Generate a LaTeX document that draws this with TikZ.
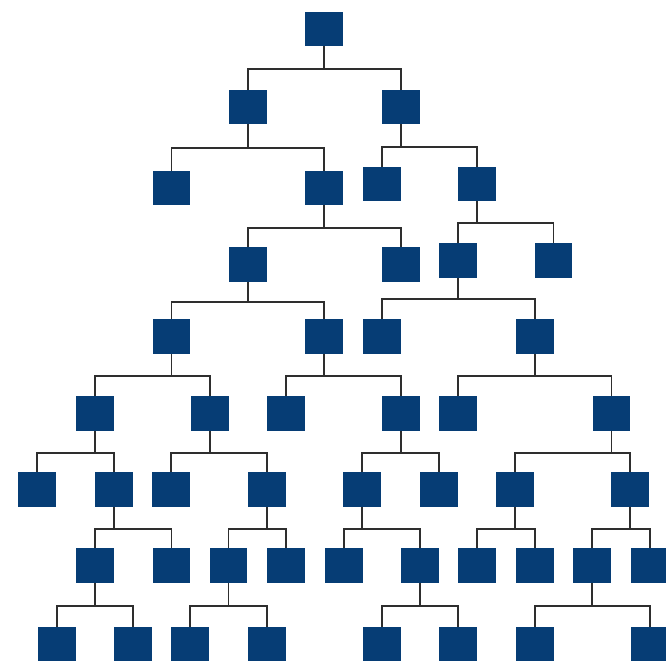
\documentclass[tikz,border=0pt]{standalone}
\definecolor{boxblue}{HTML}{063D75}
\definecolor{linegray}{HTML}{2E2E2E}
\newcommand{\treefam}[4]{%
  \draw[conn] (#1.south) -- (#1.south |- 0,#2);
  \draw[conn] (#3.north) -- (#3.north |- 0,#2) -- (#4.north |- 0,#2) -- (#4.north);}
\begin{document}
\begin{tikzpicture}[x=1pt,y=-1pt,
  bx/.style={rectangle,fill=boxblue,draw=none,minimum width=37.5pt,minimum height=34.5pt,inner sep=0pt},
  conn/.style={draw=linegray,line width=1.8pt}]
\useasboundingbox (0,0) rectangle (666,663);
\clip (0,0) rectangle (666,663);
% row 1
\node[bx] (R) at (324,29) {};
% row 2
\node[bx] (A) at (248,107) {};
\node[bx] (B) at (401,107) {};
% row 3
\node[bx] (A1) at (171.5,188) {};
\node[bx] (A2) at (324,188) {};
\node[bx] (B1) at (382,184) {};
\node[bx] (B2) at (477,184) {};
% row 4
\node[bx] (C1) at (248,264.5) {};
\node[bx] (C2) at (401,264.5) {};
\node[bx] (D1) at (458,260.5) {};
\node[bx] (D2) at (553.5,260.5) {};
% row 5
\node[bx] (E1) at (171.5,336.5) {};
\node[bx] (E2) at (324,336.5) {};
\node[bx] (F1) at (382,336.5) {};
\node[bx] (F2) at (535,336.5) {};
% row 6
\node[bx] (G1) at (95,413.5) {};
\node[bx] (G2) at (210,413.5) {};
\node[bx] (G3) at (286,413.5) {};
\node[bx] (G4) at (401,413.5) {};
\node[bx] (G5) at (458,413.5) {};
\node[bx] (G6) at (611.5,413.5) {};
% row 7
\node[bx] (H1) at (37,489.5) {};
\node[bx] (H2) at (114,489.5) {};
\node[bx] (H3) at (171,489.5) {};
\node[bx] (H4) at (267,489.5) {};
\node[bx] (H5) at (362,489.5) {};
\node[bx] (H6) at (439,489.5) {};
\node[bx] (H7) at (515,489.5) {};
\node[bx] (H8) at (630,489.5) {};
% row 8
\node[bx] (I1) at (95,565.5) {};
\node[bx] (I2) at (171.5,565.5) {};
\node[bx] (I3) at (228.5,565.5) {};
\node[bx] (I4) at (286,565.5) {};
\node[bx] (I5) at (344,565.5) {};
\node[bx] (I6) at (420,565.5) {};
\node[bx] (I7) at (477,565.5) {};
\node[bx] (I8) at (535,565.5) {};
\node[bx] (I9) at (592,565.5) {};
\node[bx] (I10) at (650,565.5) {};
% row 9
\node[bx] (J1) at (57,644) {};
\node[bx] (J2) at (133,644) {};
\node[bx] (J3) at (190,644) {};
\node[bx] (J4) at (267,644) {};
\node[bx] (J5) at (382,644) {};
\node[bx] (J6) at (458,644) {};
\node[bx] (J7) at (535,644) {};
\node[bx] (J8) at (650,644) {};
% connectors
\treefam{R}{69}{A}{B}
\treefam{A}{148}{A1}{A2}
\treefam{B}{147}{B1}{B2}
\treefam{A2}{228}{C1}{C2}
\treefam{B2}{223}{D1}{D2}
\treefam{C1}{302}{E1}{E2}
\treefam{D1}{299}{F1}{F2}
\treefam{E1}{376}{G1}{G2}
\treefam{E2}{376}{G3}{G4}
\treefam{F2}{376}{G5}{G6}
\treefam{G1}{453}{H1}{H2}
\treefam{G2}{453}{H3}{H4}
\treefam{G4}{453}{H5}{H6}
\treefam{G6}{453}{H7}{H8}
\treefam{H2}{529}{I1}{I2}
\treefam{H4}{529}{I3}{I4}
\treefam{H5}{529}{I5}{I6}
\treefam{H7}{529}{I7}{I8}
\treefam{H8}{529}{I9}{I10}
\treefam{I1}{606}{J1}{J2}
\treefam{I3}{606}{J3}{J4}
\treefam{I6}{606}{J5}{J6}
\treefam{I9}{606}{J7}{J8}
\end{tikzpicture}
\end{document}
